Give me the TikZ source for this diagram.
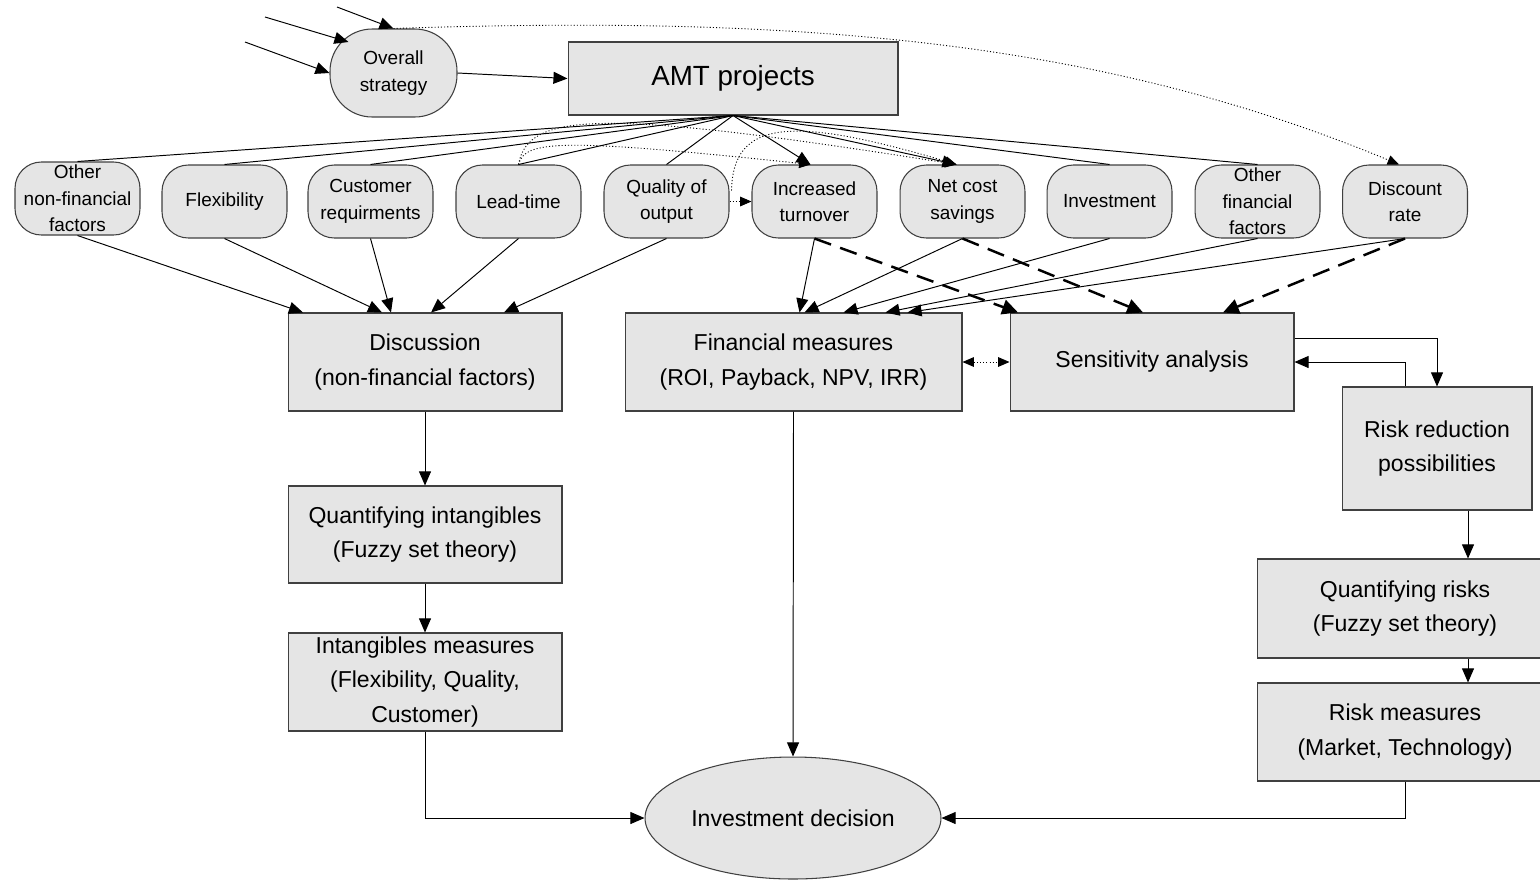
\documentclass[tikz,border=0pt]{standalone}
\usepackage{fontspec}
\setmainfont{Liberation Sans}
\usetikzlibrary{arrows.meta,shapes.geometric,calc}
\tikzset{
  box/.style={draw=black!75,fill=black!10,line width=0.6pt,align=center,
    inner sep=1pt,font=\fontsize{13.1}{19.4}\selectfont},
  factor/.style={draw=black!75,fill=black!10,line width=0.6pt,rounded corners=15pt,
    align=center,minimum width=2.5cm,minimum height=1.46cm,inner sep=0.5pt,
    font=\fontsize{10.8}{15.1}\selectfont},
  link/.style={line width=0.55pt,-{Triangle[length=8pt,width=6.8pt]}},
  dashlink/.style={line width=1.4pt,dash pattern=on 10pt off 5.5pt,
    -{Triangle[length=9pt,width=8.5pt]}},
  dotlink/.style={line width=0.5pt,dash pattern=on 0.6pt off 1.2pt,
    -{Triangle[length=6.5pt,width=5.5pt]}}
}
\begin{document}
\begin{tikzpicture}[x=0.02cm,y=-0.02cm]
  \clip (0,0) rectangle (1540,880);
  % Strategy and projects
  \node[factor,minimum width=2.54cm,minimum height=1.76cm,rounded corners=24pt]
    (strat) at (393.5,73) {Overall\\strategy};
  \node[box,minimum width=6.6cm,minimum height=1.46cm,font=\fontsize{15.8}{19}\selectfont]
    (amt) at (733,78.5) {AMT projects};
  \coordinate (in1) at (337,7);
  \coordinate (in2) at (265,17);
  \coordinate (in3) at (245,42);
  \draw[link] (in1) -- (strat.north);
  \draw[link] (in2) -- ($(strat.center)+(-45,-31)$);
  \draw[link] (in3) -- (strat.west);
  \draw[link] (strat.east) -- (amt.west);
  % Factors
  \node[factor] (onf) at (77.5,198.5) {Other\\non-financial\\factors};
  \node[factor] (flex) at (224.5,201.5) {Flexibility};
  \node[factor] (cust) at (370.5,201.5) {Customer\\requirments};
  \node[factor] (lead) at (518.5,201.5) {Lead-time};
  \node[factor] (qual) at (666.5,201.5) {Quality of\\output};
  \node[factor] (turn) at (814.5,201.5) {Increased\\turnover};
  \node[factor] (sav) at (962.5,201.5) {Net cost\\savings};
  \node[factor] (inv) at (1109.5,201.5) {Investment};
  \node[factor] (ofin) at (1257.5,201.5) {Other\\financial\\factors};
  \node[factor] (drate) at (1405,201.5) {Discount\\rate};
  \coordinate (turntop) at ($(turn.north)+(-4,0)$);
  \coordinate (savtop) at ($(sav.north)+(-6,0)$);
  \foreach \n in {onf,flex,cust,lead,qual,inv,ofin}
    \draw[line width=0.55pt] (amt.south) -- (\n.north);
  \draw[link] (amt.south) -- (turntop);
  \draw[link] (amt.south) -- (savtop);
  % Dotted influences
  \draw[dotlink] (strat.north) .. controls (800,15) and (1100,40) .. ($(drate.north)+(-6,0)$);
  \draw[dotlink] (lead.north) .. controls (525,140) and (560,138) .. (turntop);
  \draw[dotlink] (lead.north) .. controls (528,112) and (600,108) .. (savtop);
  \draw[dotlink] ($(qual.east)+(2,-11)$) .. controls (733,120) and (790,115) .. (savtop);
  \draw[dotlink] (qual.east) -- (turn.west);
  % Analysis boxes
  \node[box,minimum width=5.48cm,minimum height=1.96cm] (discuss) at (425,362)
    {Discussion\\(non-financial factors)};
  \node[box,minimum width=6.74cm,minimum height=1.96cm] (fin) at (793.5,362)
    {Financial measures\\(ROI, Payback, NPV, IRR)};
  \node[box,minimum width=5.68cm,minimum height=1.96cm] (sens) at (1152,362)
    {Sensitivity analysis};
  \node[box,minimum width=3.8cm,minimum height=2.46cm] (riskred) at (1437,448.5)
    {Risk reduction\\possibilities};
  \node[box,minimum width=5.48cm,minimum height=1.94cm] (qint) at (425,534.5)
    {Quantifying intangibles\\(Fuzzy set theory)};
  \node[box,minimum width=5.48cm,minimum height=1.96cm] (imeas) at (425,682)
    {Intangibles measures\\(Flexibility, Quality,\\Customer)};
  \node[box,minimum width=5.92cm,minimum height=1.98cm] (qrisk) at (1405,608.5)
    {Quantifying risks\\(Fuzzy set theory)};
  \node[box,minimum width=5.92cm,minimum height=1.96cm] (rmeas) at (1405,732)
    {Risk measures\\(Market, Technology)};
  \node[box,ellipse,minimum width=5.92cm,minimum height=2.44cm,inner sep=0pt]
    (dec) at (793,818) {Investment decision};
  % Factors to discussion
  \draw[link] (onf.south) -- ($(discuss.north)+(-122,0)$);
  \draw[link] (flex.south) -- ($(discuss.north)+(-43,0)$);
  \draw[link] (cust.south) -- ($(discuss.north)+(-34,0)$);
  \draw[link] (lead.south) -- ($(discuss.north)+(6,0)$);
  \draw[link] (qual.south) -- ($(discuss.north)+(79,0)$);
  % Factors to financial measures
  \draw[link] (turn.south) -- ($(fin.north)+(6,0)$);
  \draw[link] (sav.south) -- ($(fin.north)+(11,0)$);
  \draw[link] (inv.south) -- ($(fin.north)+(50,0)$);
  \draw[link] (ofin.south) -- ($(fin.north)+(92,0)$);
  \draw[link] (drate.south) -- ($(fin.north)+(114,0)$);
  % Factors to sensitivity
  \draw[dashlink] (turn.south) -- ($(sens.north)+(-134,0)$);
  \draw[dashlink] (sav.south) -- ($(sens.north)+(-9,0)$);
  \draw[dashlink] (drate.south) -- ($(sens.north)+(71,0)$);
  \draw[dotlink,{Triangle[length=6.5pt,width=5.5pt]}-{Triangle[length=6.5pt,width=5.5pt]}]
    (fin.east) -- (sens.west);
  % Risk loop
  \draw[link] ($(sens.east)+(0,-24)$) -| (riskred.north);
  \draw[link] ($(riskred.north)+(-32,0)$) |- (sens.east);
  \coordinate (rr) at ($(riskred.south)+(31,0)$);
  \draw[link] (rr) -- (rr |- qrisk.north);
  \draw[link] (qrisk.south -| rr) -- (rmeas.north -| rr);
  % Down the left column
  \draw[link] (discuss.south) -- (qint.north);
  \draw[link] (qint.south) -- (imeas.north);
  % Into the decision
  \draw[link] (imeas.south) |- (dec.west);
  \draw[link] (fin.south) -- (dec.north);
  \draw[link] (rmeas.south) |- (dec.east);
\end{tikzpicture}
\end{document}
